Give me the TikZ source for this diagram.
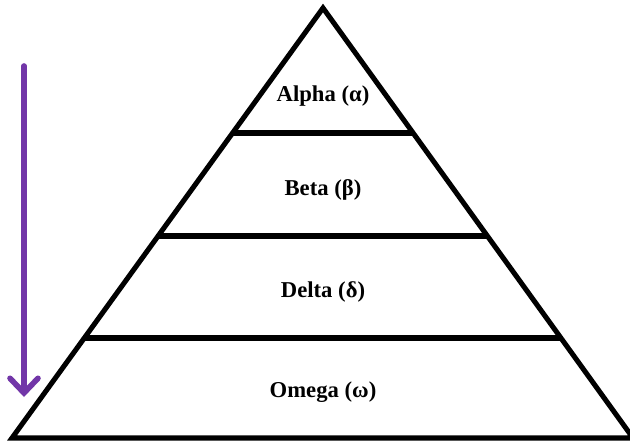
\documentclass[tikz,border=0pt]{standalone}
\usepackage{fontspec}
\setmainfont{Liberation Serif}
\usetikzlibrary{arrows.meta,calc}

\definecolor{arrowpurple}{HTML}{7236A8}

\tikzset{
    edge/.style={black, line width=3.8pt, line join=miter},
    level/.style={font=\fontsize{17}{20}\selectfont\bfseries, inner sep=0pt}
}

\begin{document}
\begin{tikzpicture}[x=0.75pt, y=-0.75pt]

    \useasboundingbox (0,0) rectangle (630,446);

    % Corners of the pyramid
    \coordinate (top)   at (323,8);
    \coordinate (left)  at (12,438);
    \coordinate (right) at (633,438);

    % Outline
    \draw[edge] (left) -- (top) -- (right) -- cycle;

    % Dividing lines between the levels
    \foreach \y in {133,236,338} {
        \draw[edge] ($(top)!{(\y-8)/430}!(left)$) -- ($(top)!{(\y-8)/430}!(right)$);
    }

    % Level names
    \node[level] (alpha) at (323,96)  {Alpha (α)};
    \node[level] (beta)  at (323,190) {Beta (β)};
    \node[level] (delta) at (323,292) {Delta (δ)};
    \node[level] (omega) at (323,392) {Omega (ω)};

    % Downward arrow
    \coordinate (start) at (24,66);
    \coordinate (stop)  at (24,397);
    \draw[arrowpurple, line width=4.2pt, line cap=round,
          -{Straight Barb[length=11pt, width=21pt, line cap=round]}] (start) -- (stop);

\end{tikzpicture}
\end{document}
